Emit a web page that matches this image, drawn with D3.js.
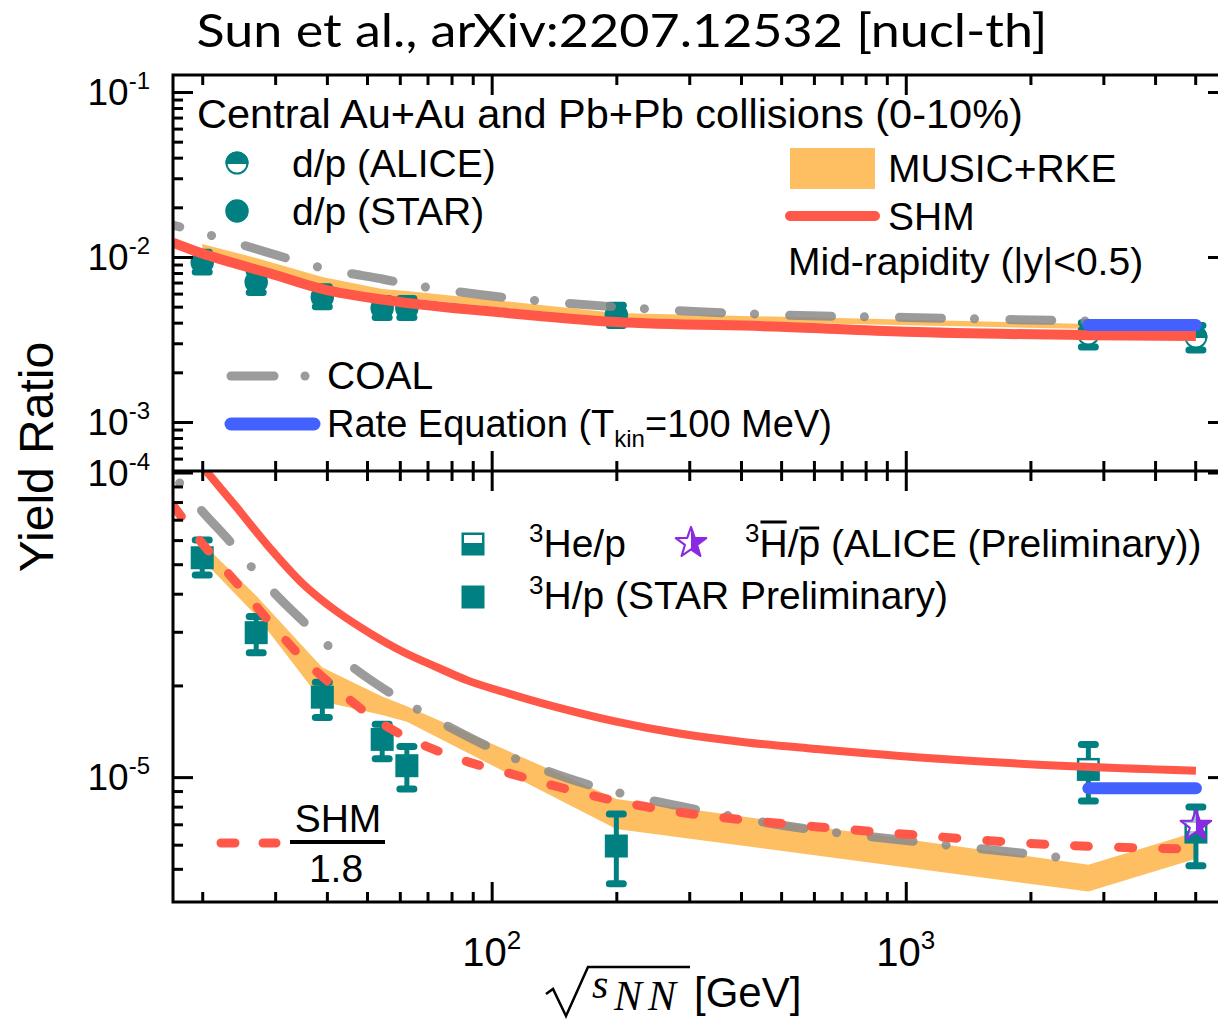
<!DOCTYPE html>
<html>
<head>
<meta charset="utf-8">
<script src="https://cdn.jsdelivr.net/npm/d3@7"></script>
<style>
  body { margin: 0; background: #fff; }
  svg { display: block; font-family: Arial, "Liberation Sans", Helvetica, sans-serif; }
</style>
</head>
<body>
<div id="chart"></div>
<script>
"use strict";

/* ------------------------------ Data ------------------------------ */

const starE = [20, 27, 39, 54.4, 62.4, 200];
const aliceE = [2760, 5020];

// d/p ratios
const dpStar   = [9.3e-3, 7.05e-3, 5.73e-3, 4.91e-3, 4.9e-3, 4.45e-3];
const dpStarLo = [8.1e-3, 6.1e-3, 5.0e-3, 4.3e-3, 4.3e-3, 3.85e-3];
const dpStarHi = [1.07e-2, 8.1e-3, 6.6e-3, 5.6e-3, 5.6e-3, 5.1e-3];
const dpAlice   = [3.41e-3, 3.27e-3];
const dpAliceLo = [2.85e-3, 2.73e-3];
const dpAliceHi = [4.0e-3, 3.85e-3];

// 3H/p (STAR Preliminary)
const h3Star   = [5.25e-5, 2.98e-5, 1.83e-5, 1.33e-5, 1.09e-5, 5.94e-6];
const h3StarLo = [4.61e-5, 2.56e-5, 1.57e-5, 1.15e-5, 9.14e-6, 4.47e-6];
const h3StarHi = [6.0e-5, 3.37e-5, 2.05e-5, 1.49e-5, 1.26e-5, 7.57e-6];
// 3He/p (ALICE)
const he3Alice   = [1.06e-5, 6.6e-6];
const he3AliceLo = [8.35e-6, 5.12e-6];
const he3AliceHi = [1.28e-5, 7.98e-6];
// anti-3H / anti-p (ALICE Preliminary)
const antiE = [5020];
const antiH3 = [6.92e-6];

// MUSIC+RKE band
const bandE = [20, 27, 39, 54.4, 62.4, 200, 2760, 5020];
const bandTopHi = [1.2e-2, 9.86e-3, 7.56e-3, 6.4e-3, 6.22e-3, 4.58e-3, 3.93e-3, 3.82e-3];
const bandTopLo = [1.08e-2, 8.7e-3, 6.58e-3, 5.72e-3, 5.64e-3, 4.2e-3, 3.66e-3, 3.56e-3];
const bandBotHi = [5.87e-5, 3.94e-5, 2.29e-5, 1.84e-5, 1.71e-5, 8.48e-6, 5.16e-6, 6.61e-6];
const bandBotLo = [5.17e-5, 3.39e-5, 1.77e-5, 1.60e-5, 1.52e-5, 6.76e-6, 4.21e-6, 5.39e-6];

// SHM
const shmTopE = [17, 20, 30, 40, 60, 100, 200, 500, 1000, 2760, 5020];
const shmTop  = [1.22e-2, 1.05e-2, 7.78e-3, 6.3e-3, 5.34e-3, 4.67e-3, 4.04e-3, 3.78e-3, 3.52e-3, 3.36e-3, 3.32e-3];
const shmBotE = [17, 20, 24, 29, 35, 42, 51, 61, 74, 88, 110, 136, 196, 284, 413, 596, 1080, 2360, 5020];
const shmBot  = [1.40e-4, 1.05e-4, 7.8e-5, 5.69e-5, 4.31e-5, 3.52e-5, 2.96e-5, 2.58e-5, 2.29e-5, 2.07e-5,
                 1.88e-5, 1.73e-5, 1.53e-5, 1.39e-5, 1.30e-5, 1.24e-5, 1.16e-5, 1.09e-5, 1.05e-5];
// SHM / 1.8 (dashed)
const shmDivBot = [7.8e-5, 5.85e-5, 4.4e-5, 3.25e-5, 2.45e-5, 1.96e-5, 1.59e-5, 1.37e-5, 1.22e-5, 1.12e-5,
                   1.03e-5, 9.5e-6, 8.4e-6, 7.67e-6, 7.22e-6, 6.89e-6, 6.44e-6, 5.98e-6, 5.8e-6];

// COAL
const coalTopE = [17, 20, 27, 39, 54.4, 62.4, 100, 200, 500, 1000, 2760];
const coalTop  = [1.56e-2, 1.40e-2, 1.118e-2, 8.58e-3, 7.36e-3, 6.86e-3, 5.80e-3, 4.98e-3, 4.45e-3, 4.30e-3, 4.09e-3];
const coalBotE = [17, 19.7, 23.3, 29.1, 34.7, 44.7, 55.2, 73.6, 107.5, 160.5, 224, 336, 516, 721, 1081, 1967, 2760];
const coalBot  = [9.87e-5, 7.64e-5, 5.95e-5, 4.18e-5, 3.29e-5, 2.38e-5, 1.94e-5, 1.54e-5, 1.19e-5, 9.70e-6,
                  8.60e-6, 7.68e-6, 6.91e-6, 6.51e-6, 6.12e-6, 5.60e-6, 5.31e-6];

// Rate equation (T_kin = 100 MeV)
const rateE = [2760, 5020];
const rateTop = [3.87e-3, 3.87e-3];
const rateBot = [9.2e-6, 9.2e-6];

// axis ticks
const xMajor = [100, 1000];
const xMinor = [20, 30, 40, 50, 60, 70, 80, 90, 200, 300, 400, 500, 600, 700, 800, 900, 2000, 3000, 4000, 5000];
const yTopMajor = [1e-1, 1e-2, 1e-3];
const yTopMinor = [2e-2, 3e-2, 4e-2, 5e-2, 6e-2, 7e-2, 8e-2, 9e-2,
                   2e-3, 3e-3, 4e-3, 5e-3, 6e-3, 7e-3, 8e-3, 9e-3, 6e-4, 7e-4, 8e-4, 9e-4];
const yBotMajor = [1e-4, 1e-5];
const yBotMinor = [2e-5, 3e-5, 4e-5, 5e-5, 6e-5, 7e-5, 8e-5, 9e-5, 5e-6, 6e-6, 7e-6, 8e-6, 9e-6];

/* ------------------------------ Layout ------------------------------ */

const TEAL = "#008080", RED = "#ff5848", ORANGE = "#fdbf62", BLUE = "#4361ff",
      GRAY = "#8a8a8a", PURPLE = "#8a2be2";

const frameL = 173, frameR = 1228, frameT = 75, frameM = 471, frameB = 902;

const svg = d3.select("#chart").append("svg")
    .attr("width", 1218)
    .attr("height", 1021);

const x = d3.scaleLog().domain([17, 6000]).range([frameL, frameR]);
const yTop = d3.scaleLog().domain([Math.pow(10, -3.297), Math.pow(10, -0.897)]).range([frameM, frameT]);
const yBot = d3.scaleLog().domain([Math.pow(10, -5.41), Math.pow(10, -3.995)]).range([frameB, frameM]);

const defs = svg.append("defs");
defs.append("clipPath").attr("id", "clipTop").append("rect")
    .attr("x", frameL).attr("y", frameT).attr("width", frameR - frameL).attr("height", frameM - frameT);
defs.append("clipPath").attr("id", "clipBot").append("rect")
    .attr("x", frameL).attr("y", frameM).attr("width", frameR - frameL).attr("height", frameB - frameM);

const gTop = svg.append("g").attr("clip-path", "url(#clipTop)");
const gBot = svg.append("g").attr("clip-path", "url(#clipBot)");

/* ------------------------------ Helpers ------------------------------ */

const lineOf = (y, curve) => d3.line()
    .x(d => x(d[0]))
    .y(d => y(d[1]))
    .curve(curve || d3.curveCatmullRom.alpha(0.5));

const drawBand = (g, y, lo, hi) => {
    g.append("path")
        .datum(d3.zip(bandE, lo, hi))
        .attr("fill", ORANGE)
        .attr("d", d3.area()
            .x(d => x(d[0]))
            .y0(d => y(d[1]))
            .y1(d => y(d[2])));
}

const drawErrors = (g, y, es, lo, hi) => {
    d3.zip(es, lo, hi).forEach(d => {
        const cx = x(d[0]);
        g.append("line")
            .attr("x1", cx).attr("x2", cx).attr("y1", y(d[1])).attr("y2", y(d[2]))
            .attr("stroke", TEAL).attr("stroke-width", 5);
        [d[1], d[2]].forEach(v => {
            g.append("line")
                .attr("x1", cx - 7).attr("x2", cx + 7).attr("y1", y(v)).attr("y2", y(v))
                .attr("stroke", TEAL).attr("stroke-width", 7).attr("stroke-linecap", "round");
        });
    });
}

const fullCircle = (g, cx, cy) => {
    g.append("circle").attr("cx", cx).attr("cy", cy).attr("r", 11)
        .attr("fill", TEAL).attr("stroke", TEAL).attr("stroke-width", 1.5);
}

const halfCircle = (g, cx, cy) => {
    const r = 10.5;
    g.append("circle").attr("cx", cx).attr("cy", cy).attr("r", r)
        .attr("fill", "#fff").attr("stroke", TEAL).attr("stroke-width", 2);
    g.append("path")
        .attr("d", `M${cx - r},${cy} A${r},${r} 0 0 1 ${cx + r},${cy} Z`)
        .attr("fill", TEAL).attr("stroke", TEAL).attr("stroke-width", 2);
}

const fullSquare = (g, cx, cy) => {
    g.append("rect").attr("x", cx - 11.5).attr("y", cy - 11.5).attr("width", 23).attr("height", 23)
        .attr("fill", TEAL);
}

const halfSquare = (g, cx, cy) => {
    g.append("rect").attr("x", cx - 11.5).attr("y", cy - 11.5).attr("width", 23).attr("height", 23)
        .attr("fill", TEAL);
    g.append("rect").attr("x", cx - 9).attr("y", cy - 9).attr("width", 18).attr("height", 8)
        .attr("fill", "#fff");
}

let starCount = 0;
const halfStar = (g, cx, cy, R) => {
    const pts = d3.range(10).map(i => {
        const a = -Math.PI / 2 + i * Math.PI / 5;
        const rr = i % 2 ? R * 0.4 : R;
        return [cx + rr * Math.cos(a), cy + rr * Math.sin(a)];
    });
    const d = "M" + pts.join("L") + "Z";
    const id = "starHalf" + (starCount++);
    defs.append("clipPath").attr("id", id).append("rect")
        .attr("x", cx).attr("y", cy - R - 2).attr("width", R + 2).attr("height", 2 * R + 4);
    g.append("path").attr("d", d).attr("fill", "#fff").attr("fill-opacity", 0.6)
        .attr("stroke", PURPLE).attr("stroke-width", 2.2).attr("stroke-linejoin", "round");
    g.append("path").attr("d", d).attr("fill", PURPLE).attr("clip-path", `url(#${id})`);
}

/* ------------------------------ Top panel: d/p ------------------------------ */

drawBand(gTop, yTop, bandTopLo, bandTopHi);

drawErrors(gTop, yTop, starE, dpStarLo, dpStarHi);
drawErrors(gTop, yTop, aliceE, dpAliceLo, dpAliceHi);
d3.zip(starE, dpStar).forEach(d => fullCircle(gTop, x(d[0]), yTop(d[1])));
d3.zip(aliceE, dpAlice).forEach(d => halfCircle(gTop, x(d[0]), yTop(d[1])));

gTop.append("path")
    .datum(d3.zip(coalTopE, coalTop))
    .attr("fill", "none").attr("stroke", GRAY).attr("stroke-opacity", 0.85)
    .attr("stroke-width", 9).attr("stroke-linecap", "round")
    .attr("stroke-dasharray", "42,33,0.1,35").attr("stroke-dashoffset", 35)
    .attr("d", lineOf(yTop));

gTop.append("path")
    .datum(d3.zip(shmTopE, shmTop))
    .attr("fill", "none").attr("stroke", RED).attr("stroke-width", 10)
    .attr("d", lineOf(yTop));

gTop.append("path")
    .datum(d3.zip(rateE, rateTop))
    .attr("fill", "none").attr("stroke", BLUE).attr("stroke-width", 12).attr("stroke-linecap", "round")
    .attr("d", lineOf(yTop, d3.curveLinear));

/* ------------------------------ Bottom panel: A=3 ------------------------------ */

drawBand(gBot, yBot, bandBotLo, bandBotHi);

drawErrors(gBot, yBot, starE, h3StarLo, h3StarHi);
drawErrors(gBot, yBot, aliceE, he3AliceLo, he3AliceHi);
d3.zip(starE, h3Star).forEach(d => fullSquare(gBot, x(d[0]), yBot(d[1])));
d3.zip(aliceE, he3Alice).forEach(d => halfSquare(gBot, x(d[0]), yBot(d[1])));
d3.zip(antiE, antiH3).forEach(d => halfStar(gBot, x(d[0]), yBot(d[1]), 16));

gBot.append("path")
    .datum(d3.zip(coalBotE, coalBot))
    .attr("fill", "none").attr("stroke", GRAY).attr("stroke-opacity", 0.85)
    .attr("stroke-width", 9).attr("stroke-linecap", "round")
    .attr("stroke-dasharray", "42,33,0.1,35").attr("stroke-dashoffset", 64)
    .attr("d", lineOf(yBot));

gBot.append("path")
    .datum(d3.zip(shmBotE, shmBot))
    .attr("fill", "none").attr("stroke", RED).attr("stroke-width", 8)
    .attr("d", lineOf(yBot));

gBot.append("path")
    .datum(d3.zip(shmBotE, shmDivBot))
    .attr("fill", "none").attr("stroke", RED).attr("stroke-width", 9).attr("stroke-linecap", "round")
    .attr("stroke-dasharray", "14,30")
    .attr("d", lineOf(yBot));

gBot.append("path")
    .datum(d3.zip(rateE, rateBot))
    .attr("fill", "none").attr("stroke", BLUE).attr("stroke-width", 12).attr("stroke-linecap", "round")
    .attr("d", lineOf(yBot, d3.curveLinear));

/* ------------------------------ Axes and frame ------------------------------ */

const styleTicks = (g) => {
    g.select(".domain").remove();
    g.selectAll(".tick line").attr("stroke", "#000").attr("stroke-width", 3);
}

const xTicks = (yPos, vals, len) => {
    svg.append("g")
        .attr("transform", `translate(0,${yPos})`)
        .call(d3.axisBottom(x).tickValues(vals).tickSize(len).tickSizeOuter(0).tickFormat(""))
        .call(styleTicks);
}
// top edge: ticks pointing down, middle: both ways, bottom edge: ticks up
xTicks(frameT, xMajor, 20);
xTicks(frameT, xMinor, 10);
xTicks(frameM, xMajor, -20);
xTicks(frameM, xMinor, -10);
xTicks(frameM, xMajor, 20);
xTicks(frameM, xMinor, 10);
xTicks(frameB, xMajor, -20);
xTicks(frameB, xMinor, -10);

const yTicks = (y, xPos, axisFn, vals, len) => {
    svg.append("g")
        .attr("transform", `translate(${xPos},0)`)
        .call(axisFn(y).tickValues(vals).tickSize(len).tickSizeOuter(0).tickFormat(""))
        .call(styleTicks);
}
yTicks(yTop, frameL, d3.axisLeft, yTopMajor, -20);
yTicks(yTop, frameL, d3.axisLeft, yTopMinor, -10);
yTicks(yBot, frameL, d3.axisLeft, yBotMajor, -20);
yTicks(yBot, frameL, d3.axisLeft, yBotMinor, -10);
yTicks(yTop, frameR, d3.axisRight, yTopMajor, -20);
yTicks(yBot, frameR, d3.axisRight, yBotMajor, -20);

svg.append("rect")
    .attr("x", frameL).attr("y", frameT).attr("width", frameR - frameL).attr("height", frameB - frameT)
    .attr("fill", "none").attr("stroke", "#000").attr("stroke-width", 3);
svg.append("line")
    .attr("x1", frameL).attr("x2", frameR).attr("y1", frameM).attr("y2", frameM)
    .attr("stroke", "#000").attr("stroke-width", 3);

// tick labels
const powLabel = (xPos, yPos, v, anchor, size, supSize, rise) => {
    const t = svg.append("text")
        .attr("x", xPos).attr("y", yPos)
        .attr("text-anchor", anchor)
        .attr("font-size", size);
    t.append("tspan").text("10");
    t.append("tspan").attr("dy", -rise).attr("font-size", supSize)
        .text(String(Math.round(Math.log10(v))));
}
yTopMajor.forEach(v => powLabel(150, yTop(v) + 13, v, "end", 37, 24, 16));
yBotMajor.forEach(v => powLabel(150, yBot(v) + 13, v, "end", 37, 24, 16));
xMajor.forEach(v => powLabel(x(v), 966, v, "middle", 40, 26, 17));

// axis titles
svg.append("text")
    .attr("transform", "translate(53,457) rotate(-90)")
    .attr("text-anchor", "middle")
    .attr("font-size", 48)
    .text("Yield Ratio");

svg.append("path")
    .attr("d", "M546,994 L553,989 L566,1016 L588,967 L690,967")
    .attr("fill", "none").attr("stroke", "#000").attr("stroke-width", 2.5)
    .attr("stroke-linejoin", "miter");
const xt = svg.append("text")
    .attr("font-family", "'Liberation Serif', 'DejaVu Serif', serif")
    .attr("font-style", "italic")
    .attr("font-size", 42);
xt.append("tspan").attr("x", 592).attr("y", 998).text("s");
xt.append("tspan").attr("x", 614).attr("y", 1010).attr("letter-spacing", 6).text("NN");
svg.append("text")
    .attr("x", 694).attr("y", 1007)
    .attr("font-size", 42)
    .text("[GeV]");

// title
svg.append("text")
    .attr("x", 622).attr("y", 47)
    .attr("text-anchor", "middle")
    .attr("font-family", "Lato, 'Open Sans', sans-serif")
    .attr("font-size", 47)
    .attr("textLength", 851)
    .attr("lengthAdjust", "spacingAndGlyphs")
    .text("Sun et al., arXiv:2207.12532 [nucl-th]");

/* ------------------------------ Legends ------------------------------ */

const label = (xPos, yPos, txt, size) => svg.append("text")
    .attr("x", xPos).attr("y", yPos)
    .attr("font-size", size || 39)
    .text(txt);

label(197, 128, "Central Au+Au and Pb+Pb collisions (0-10%)", 41.5);
halfCircle(svg, 237, 163);
label(292, 177, "d/p (ALICE)");
fullCircle(svg, 237, 211);
label(292, 225, "d/p (STAR)");

svg.append("rect").attr("x", 790).attr("y", 148).attr("width", 85).attr("height", 41).attr("fill", ORANGE);
label(888, 182, "MUSIC+RKE");
svg.append("line").attr("x1", 790).attr("x2", 875).attr("y1", 216).attr("y2", 216)
    .attr("stroke", RED).attr("stroke-width", 10).attr("stroke-linecap", "round");
label(888, 230, "SHM");
label(788, 275, "Mid-rapidity (|y|<0.5)");

svg.append("line").attr("x1", 231).attr("x2", 274).attr("y1", 376).attr("y2", 376)
    .attr("stroke", GRAY).attr("stroke-opacity", 0.85).attr("stroke-width", 9).attr("stroke-linecap", "round");
svg.append("circle").attr("cx", 305).attr("cy", 376).attr("r", 4.5)
    .attr("fill", GRAY).attr("fill-opacity", 0.85);
label(327, 389, "COAL");

svg.append("line").attr("x1", 231).attr("x2", 314).attr("y1", 424).attr("y2", 424)
    .attr("stroke", BLUE).attr("stroke-width", 13).attr("stroke-linecap", "round");
const rateLabel = label(327, 437, "Rate Equation (T", 38);
rateLabel.append("tspan").attr("dy", 10).attr("font-size", 24).text("kin");
rateLabel.append("tspan").attr("dy", -10).text("=100 MeV)");

// bottom legend
halfSquare(svg, 473, 544);
const he3Label = svg.append("text").attr("x", 529).attr("y", 557).attr("font-size", 39);
he3Label.append("tspan").attr("dy", -15).attr("font-size", 26).text("3");
he3Label.append("tspan").attr("dy", 15).text("He/p");

fullSquare(svg, 473, 597);
const h3Label = svg.append("text").attr("x", 529).attr("y", 609).attr("font-size", 39);
h3Label.append("tspan").attr("dy", -15).attr("font-size", 26).text("3");
h3Label.append("tspan").attr("dy", 15).text("H/p (STAR Preliminary)");

halfStar(svg, 691, 543, 16);
const antiLabel = svg.append("text").attr("x", 745).attr("y", 557).attr("font-size", 39);
antiLabel.append("tspan").attr("dy", -15).attr("font-size", 26).text("3");
antiLabel.append("tspan").attr("dy", 15).text("H/p (ALICE (Preliminary))");
// overlines on H and p
const node = antiLabel.node();
[[1, 522], [3, 528]].forEach(([idx, yy]) => {
    const ext = node.getExtentOfChar(idx);
    svg.append("line")
        .attr("x1", ext.x + 1).attr("x2", ext.x + ext.width - 1)
        .attr("y1", yy).attr("y2", yy)
        .attr("stroke", "#000").attr("stroke-width", 3);
});

// SHM / 1.8
svg.append("line").attr("x1", 221).attr("x2", 276).attr("y1", 843).attr("y2", 843)
    .attr("stroke", RED).attr("stroke-width", 9).attr("stroke-linecap", "round")
    .attr("stroke-dasharray", "14,28");
svg.append("text").attr("x", 338).attr("y", 832).attr("text-anchor", "middle").attr("font-size", 39).text("SHM");
svg.append("line").attr("x1", 290).attr("x2", 385).attr("y1", 842).attr("y2", 842)
    .attr("stroke", "#000").attr("stroke-width", 4);
svg.append("text").attr("x", 336).attr("y", 882).attr("text-anchor", "middle").attr("font-size", 39).text("1.8");
</script>
</body>
</html>
